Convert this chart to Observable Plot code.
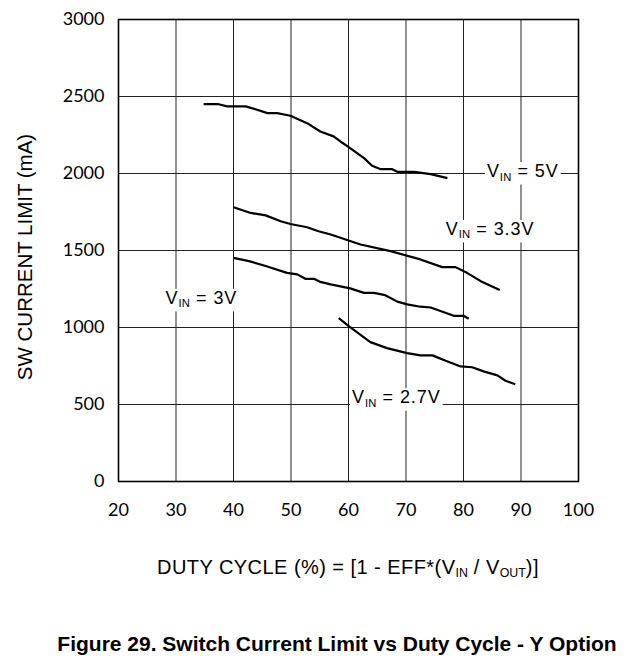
<!DOCTYPE html>
<html>
<head>
<meta charset="utf-8">
<script src="https://cdn.jsdelivr.net/npm/d3@7"></script>
<script src="https://cdn.jsdelivr.net/npm/@observablehq/plot@0.6"></script>
<style>
  html, body { margin: 0; padding: 0; background: #fff; }
  body { width: 639px; height: 669px; position: relative; overflow: hidden; }
  #topline { position: absolute; left: 0; top: 4px; width: 639px; height: 0; border-top: 2px solid #000; }
  #chart { position: absolute; left: 0; top: 0; }
  .xlabel { position: absolute; left: 0; top: 557px; width: 696px; text-align: center;
            font-family: "Liberation Sans", Arial, sans-serif; font-size: 20px; line-height: 20px;
            letter-spacing: 0.45px; color: #000; white-space: nowrap; }
  .title { position: absolute; left: 0; top: 633px; width: 674px; text-align: center;
           font-family: "Liberation Sans", Arial, sans-serif; font-size: 21px; line-height: 21px;
           font-weight: bold; color: #000; white-space: nowrap; }
  sub { font-size: 0.62em; vertical-align: -0.25em; line-height: 0; letter-spacing: 0; }
</style>
</head>
<body>
<div id="topline"></div>
<div id="chart"></div>
<div class="xlabel">DUTY CYCLE (%) = [1 - EFF*(V<sub>IN</sub> / V<sub>OUT</sub>)]</div>
<div class="title">Figure 29. Switch Current Limit vs Duty Cycle - Y Option</div>
<script>
// ---- data ----
const xTicks = [20, 30, 40, 50, 60, 70, 80, 90, 100];
const yTicks = [0, 500, 1000, 1500, 2000, 2500, 3000];

const x5V = [34.8, 37.4, 38.9, 42.1, 44.1, 45.9, 47.6, 49.9, 52.8, 55.1, 57.4, 58.6, 60.1, 62.7, 64.1, 65.6, 67.6, 68.5, 71.4, 74.3, 77.2];
const y5V = [2450, 2450, 2436, 2436, 2414, 2392, 2392, 2375, 2327, 2273, 2241, 2208, 2170, 2100, 2050, 2028, 2028, 2011, 2011, 1996, 1970];

const x33V = [40, 43, 45.6, 48.2, 49.9, 52.8, 54.8, 56.9, 62.1, 67.3, 72.5, 76.3, 78.6, 80.6, 83, 86.3];
const y33V = [1781, 1744, 1728, 1690, 1672, 1651, 1625, 1604, 1539, 1496, 1442, 1392, 1392, 1355, 1301, 1243];

const x3V = [40, 42.7, 45.6, 49.3, 51.1, 52.5, 54, 55.1, 56.9, 60.3, 62.7, 64.4, 66.4, 68.5, 70.2, 72.5, 74.3, 78.3, 80, 80.9];
const y3V = [1452, 1431, 1399, 1355, 1345, 1316, 1316, 1296, 1280, 1254, 1225, 1225, 1210, 1168, 1150, 1135, 1130, 1076, 1076, 1057];

const x27V = [58.3, 60.1, 63.8, 66.7, 70.2, 72.5, 74.6, 76.9, 79.5, 81.5, 83.5, 85.9, 87.3, 89];
const y27V = [1061, 1007, 905, 866, 834, 819, 819, 784, 747, 742, 715, 689, 654, 632];

const labelText = ["5V", "3.3V", "3V", "2.7V"];
const labelX = [90.4, 84.7, 34.5, 68.4];
const labelY = [2016, 1640, 1192, 547];

const yTitle = "SW CURRENT LIMIT (mA)";

// ---- build tables ----
const toRows = (xs, ys) => xs.map((x, i) => ({x, y: ys[i]}));
const series = [toRows(x5V, y5V), toRows(x33V, y33V), toRows(x3V, y3V), toRows(x27V, y27V)];
const labels = labelText.map((t, i) => ({t, x: labelX[i], y: labelY[i]}));

const labelFont = '"Liberation Sans", Arial, sans-serif';

function labelMark(index, scales, values, dimensions) {
  const g = d3.create("svg:g");
  for (const L of labels) {
    const t = g.append("text")
      .attr("class", "vlabel")
      .attr("x", scales.x(L.x))
      .attr("y", scales.y(L.y))
      .attr("dy", "0.36em")
      .attr("text-anchor", "middle")
      .attr("font-family", labelFont)
      .attr("font-size", 18)
      .attr("letter-spacing", "0.9px")
      .attr("fill", "#000");
    t.append("tspan").text("V");
    t.append("tspan").attr("font-size", 11.2).attr("dy", 3.5).attr("letter-spacing", "0.3px").text("IN");
    t.append("tspan").attr("dy", -3.5).text(" = " + L.t);
  }
  // y-axis title
  const {marginTop, marginBottom, height} = dimensions;
  const cy = marginTop + (height - marginTop - marginBottom) / 2 + 7;
  g.append("text")
    .attr("transform", `translate(25,${cy}) rotate(-90)`)
    .attr("dy", "0.36em")
    .attr("text-anchor", "middle")
    .attr("font-family", labelFont)
    .attr("font-size", 20.5)
    .attr("fill", "#000")
    .text(yTitle);
  return g.node();
}

const plot = Plot.plot({
  width: 639,
  height: 530,
  marginTop: 19,
  marginBottom: 49,
  marginLeft: 118,
  marginRight: 61,
  style: { fontFamily: "Lato, sans-serif", fontSize: "18px", background: "#fff", color: "#000" },
  x: { domain: [20, 100] },
  y: { domain: [0, 3000] },
  marks: [
    Plot.gridX(xTicks.slice(1, -1), { stroke: "#222", strokeOpacity: 1, strokeWidth: 1 }),
    Plot.gridY(yTicks.slice(1, -1), { stroke: "#222", strokeOpacity: 1, strokeWidth: 1 }),
    Plot.frame({ stroke: "#000", strokeWidth: 1.6 }),
    Plot.axisX(xTicks, { tickSize: 0, tickPadding: 22, label: null, tickFormat: d => String(d), fontSize: 18, fill: "#000" }),
    Plot.axisY(yTicks, { tickSize: 0, tickPadding: 14, label: null, tickFormat: d => String(d), fontSize: 18, fill: "#000" }),
    labelMark,
    ...series.map(s => Plot.line(s, { x: "x", y: "y", stroke: "#000", strokeWidth: 2.2, strokeLinejoin: "round", strokeLinecap: "butt" }))
  ]
});

document.getElementById("chart").appendChild(plot);

// white boxes behind the in-plot labels (they interrupt the grid lines)
plot.querySelectorAll("text.vlabel").forEach(t => {
  const b = t.getBBox();
  const r = document.createElementNS("http://www.w3.org/2000/svg", "rect");
  r.setAttribute("x", b.x - 2);
  r.setAttribute("y", b.y + 1);
  r.setAttribute("width", b.width + 4);
  r.setAttribute("height", b.height + 1);
  r.setAttribute("fill", "#fff");
  t.parentNode.insertBefore(r, t);
});
</script>
</body>
</html>
